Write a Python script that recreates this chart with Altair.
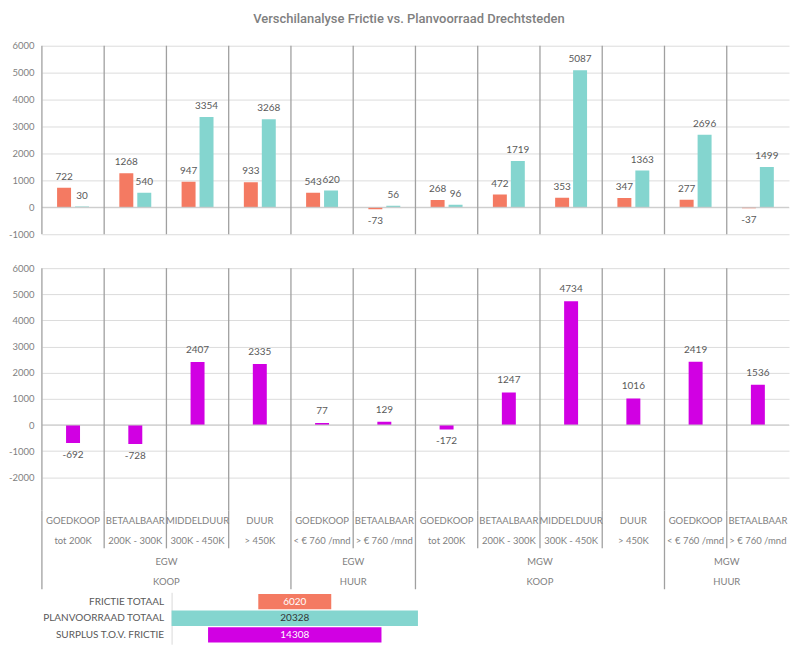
import altair as alt
import pandas as pd

TITLE = "Verschilanalyse Frictie vs. Planvoorraad Drechtsteden"
segments = ["GOEDKOOP", "BETAALBAAR", "MIDDELDUUR", "DUUR", "GOEDKOOP", "BETAALBAAR",
            "GOEDKOOP", "BETAALBAAR", "MIDDELDUUR", "DUUR", "GOEDKOOP", "BETAALBAAR"]
ranges = ["tot 200K", "200K - 300K", "300K - 450K", "> 450K", "< € 760 /mnd", "> € 760 /mnd",
          "tot 200K", "200K - 300K", "300K - 450K", "> 450K", "< € 760 /mnd", "> € 760 /mnd"]
frictie = [722, 1268, 947, 933, 543, -73, 268, 472, 353, 347, 277, -37]
planvoorraad = [30, 540, 3354, 3268, 620, 56, 96, 1719, 5087, 1363, 2696, 1499]
surplus = [-692, -728, 2407, 2335, 77, 129, -172, 1247, 4734, 1016, 2419, 1536]
woningtype = ["EGW", "EGW", "MGW", "MGW"]
eigendom = ["KOOP", "HUUR", "KOOP", "HUUR"]
group_start = [0, 4, 6, 10]
group_end = [4, 6, 10, 12]
totaal_labels = ["FRICTIE TOTAAL", "PLANVOORRAAD TOTAAL", "SURPLUS T.O.V. FRICTIE"]
totaal_values = [6020, 20328, 14308]
series = ["Frictie", "Planvoorraad"]

SALMON = "#F47A62"
TEAL = "#84D5CF"
MAGENTA = "#D100E3"
GRID = "#dcdcdc"
SEP = "#a0a0a0"
FONT = "Lato"

NCOL = len(segments)
W = 749
TOP_H, BOT_H, LAB_H, FUN_H = 189, 243, 82, 52
TOP_DOM = [-1000, 6000]
BOT_DOM = [-3270, 6000]

idx = list(range(NCOL))
x_scale = alt.Scale(domain=idx, paddingInner=0, paddingOuter=0)
X = alt.X("idx:O", scale=x_scale, axis=None)
XSEP = alt.X("idx:O", scale=x_scale, axis=None, bandPosition=0)


def yaxis(vals):
    return alt.Axis(values=vals, labelExpr="'' + datum.value", grid=True, gridColor=GRID,
                    domain=False, ticks=False, labelColor="#7f7f7f", labelFontSize=9.5,
                    labelFont=FONT, labelOverlap=False, labelPadding=8, title=None)


def value_labels(data, x, y, up, down, xoff=None):
    enc = dict(x=x, y=y, text="lbl:N")
    if xoff is not None:
        enc["xOffset"] = xoff
    base = alt.Chart(data).transform_calculate(lbl="'' + datum.value")
    pos = base.mark_text(dy=up, fontSize=10, font=FONT, color="#595959", clip=True).encode(
        **enc).transform_filter("datum.value >= 0")
    neg = base.mark_text(dy=down, fontSize=10, font=FONT, color="#595959", clip=True).encode(
        **enc).transform_filter("datum.value < 0")
    return pos, neg


# ---------- top panel ----------
top_df = pd.DataFrame({"idx": idx * 2,
                       "serie": [series[0]] * NCOL + [series[1]] * NCOL,
                       "value": frictie + planvoorraad})
zero_df = pd.DataFrame({"value": [0]})

top_sc = alt.Scale(domain=TOP_DOM, nice=False)
ytop = alt.Y("value:Q", scale=top_sc, axis=yaxis(list(range(-1000, 7000, 1000))))
xoff = alt.XOffset("serie:N", scale=alt.Scale(domain=series, paddingInner=0.222, paddingOuter=0.845))

top_bars = alt.Chart(top_df).mark_bar(clip=True).encode(
    x=X, xOffset=xoff, y=ytop,
    color=alt.Color("serie:N", scale=alt.Scale(domain=series, range=[SALMON, TEAL]), legend=None))
top_pos, top_neg = value_labels(top_df, X, ytop, -11, 12, xoff)
top_sep = alt.Chart(pd.DataFrame({"idx": idx, "value": [TOP_DOM[1]] * NCOL, "end": [TOP_DOM[0]] * NCOL})
                    ).mark_rule(color=SEP, strokeWidth=1.3).encode(x=XSEP, y=ytop, y2="end:Q")
top_zero = alt.Chart(zero_df).mark_rule(color="#c8c8c8").encode(y=ytop)
top = alt.layer(top_bars, top_zero, top_sep, top_pos, top_neg).properties(width=W, height=TOP_H)

# ---------- bottom panel ----------
bot_df = pd.DataFrame({"idx": idx, "value": surplus})
bot_sc = alt.Scale(domain=BOT_DOM, nice=False)
ybot = alt.Y("value:Q", scale=bot_sc, axis=yaxis(list(range(-2000, 7000, 1000))))
bot_bars = alt.Chart(bot_df).mark_bar(size=14, color=MAGENTA, clip=True).encode(x=X, y=ybot)
bot_pos, bot_neg = value_labels(bot_df, X, ybot, -12, 12)
bot_sep = alt.Chart(pd.DataFrame({"idx": idx, "value": [BOT_DOM[1]] * NCOL, "end": [BOT_DOM[0]] * NCOL})
                    ).mark_rule(color=SEP, strokeWidth=1.3).encode(x=XSEP, y=ybot, y2="end:Q")
bot_zero = alt.Chart(zero_df).mark_rule(color="#c8c8c8").encode(y=ybot)
bot = alt.layer(bot_bars, bot_zero, bot_sep, bot_pos, bot_neg).properties(width=W, height=BOT_H)

# ---------- category labels ----------
lab_rows = pd.DataFrame({"idx": idx * 2, "text": segments + ranges,
                         "row": [0.5] * NCOL + [1.5] * NCOL})
grp_rows = pd.DataFrame({
    "idx": [(s + e) // 2 for s, e in zip(group_start, group_end)] * 2,
    "text": woningtype + eigendom,
    "row": [2.5] * len(woningtype) + [3.5] * len(eigendom)})
lab_sep = pd.DataFrame({"idx": idx, "row": [0] * NCOL,
                        "depth": [3.85 if i in group_start else 1.85 for i in idx]})
ylab = alt.Scale(domain=[0, 4], reverse=True, nice=False)

lab_text = alt.Chart(lab_rows).mark_text(fontSize=9.5, font=FONT, color="#7f7f7f", clip=True).encode(
    x=X, y=alt.Y("row:Q", scale=ylab, axis=None), text="text:N")
grp_text = alt.Chart(grp_rows).mark_text(fontSize=9.5, font=FONT, color="#7f7f7f", clip=True).encode(
    x=XSEP, y=alt.Y("row:Q", scale=ylab, axis=None), text="text:N")
lab_rules = alt.Chart(lab_sep).mark_rule(color=SEP, strokeWidth=1.3).encode(
    x=XSEP, y=alt.Y("row:Q", scale=ylab, axis=None), y2="depth:Q")
lab = alt.layer(lab_rules, lab_text, grp_text).properties(width=W, height=LAB_H)

# ---------- totals (funnel) ----------
fun_df = pd.DataFrame({"name": totaal_labels, "value": totaal_values})
half = max(totaal_values) / 2
fx = alt.Scale(domain=[-half, half], range=[130, 377], nice=False, zero=False)
fy = alt.Y("name:N", sort=totaal_labels,
           scale=alt.Scale(paddingInner=0.08, paddingOuter=0.1),
           axis=alt.Axis(title=None, offset=-130, domain=True, domainColor="#d9d9d9", ticks=False,
                         labelColor="#595959", labelFontSize=10, labelFont=FONT, labelPadding=8))
fun_base = alt.Chart(fun_df).transform_calculate(
    lo="-datum.value / 2", hi="datum.value / 2", mid="0").encode(y=fy)
fun_bars = fun_base.mark_bar().encode(
    x=alt.X("lo:Q", scale=fx, axis=None), x2="hi:Q",
    color=alt.Color("name:N", scale=alt.Scale(domain=totaal_labels, range=[SALMON, TEAL, MAGENTA]),
                    legend=None))
fun_text = fun_base.mark_text(fontSize=10, font=FONT).encode(
    x=alt.X("mid:Q", scale=fx, axis=None), text=alt.Text("value:Q", format="d"),
    color=alt.condition(alt.datum.name == totaal_labels[1], alt.value("#333333"), alt.value("#ffffff")))
fun = alt.layer(fun_bars, fun_text).properties(width=W, height=FUN_H)

lower = alt.vconcat(bot, lab, fun, spacing=0, bounds="flush")
chart = alt.vconcat(top, lower, spacing=34, bounds="flush").properties(
    title=alt.TitleParams(TITLE, anchor="middle", font="Roboto", fontSize=13, fontWeight=500,
                          color="#808080", offset=15, dx=10),
    padding={"left": 0, "top": 4, "right": 0, "bottom": 0},
).resolve_scale(color="independent").configure_view(stroke=None).configure_axisY(labelOverlap=False)

chart.save("out.html", embed_options={"renderer": "svg", "actions": False})
